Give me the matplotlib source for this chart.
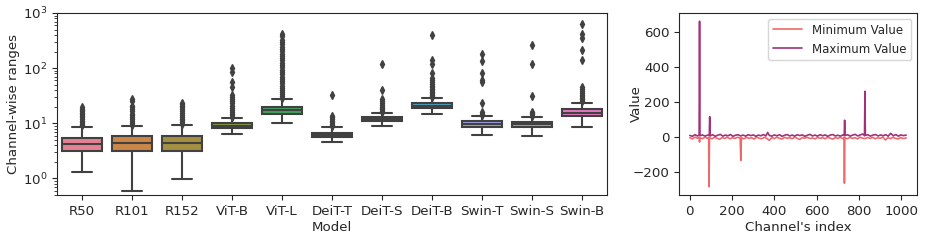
import colorsys
import matplotlib
matplotlib.use("Agg")
import matplotlib.pyplot as plt
import seaborn as sns

sns.set_style("ticks")
plt.rcParams["font.family"] = ["DejaVu Sans"]
plt.rcParams["font.size"] = 9.6

# ---- data: channel-wise ranges per model (box summary, log scale) ----
models = ["R50", "R101", "R152", "ViT-B", "ViT-L", "DeiT-T", "DeiT-S",
          "DeiT-B", "Swin-T", "Swin-S", "Swin-B"]
q1 = [3.2, 3.2, 3.2, 8.2, 14.8, 5.55, 10.9, 18.8, 8.4, 8.5, 13.6]
med = [4.15, 4.3, 4.3, 9.1, 17.5, 6.2, 12.0, 20.9, 9.7, 9.5, 15.6]
q3 = [5.4, 5.8, 5.95, 10.3, 20.1, 6.8, 13.2, 23.0, 10.8, 10.6, 18.0]
whis_lo = [1.3, 0.58, 0.96, 6.3, 10.2, 4.5, 9.1, 14.6, 6.2, 6.0, 8.5]
whis_hi = [8.65, 9.0, 9.4, 12.5, 27.0, 8.4, 15.6, 28.3, 13.6, 13.2, 23.7]
fliers_r50 = [9.2, 9.8, 10.5, 11.2, 12, 12.8, 13.6, 14.5, 15.5, 16.5, 17.5, 18.5, 19.5]
fliers_r101 = [9.4, 10, 11, 12, 13, 14, 15, 16.5, 18, 19.5, 21, 25, 27.5]
fliers_r152 = [9.8, 10.5, 11.3, 12.2, 13.2, 14.2, 15.3, 16.5, 18, 19.5, 21, 22.5, 23.6]
fliers_vitb = [13, 14, 15, 16, 17.5, 19, 21, 23, 25, 27.5, 29.6, 32, 45, 57, 86, 100]
fliers_vitl = [28.5, 31, 34, 37, 40, 44, 48, 53, 58, 64, 70, 77, 85, 94, 103, 113,
               125, 138, 152, 167, 184, 202, 222, 245, 270, 300, 330, 390, 420]
fliers_deitt = [8.8, 9.3, 9.9, 10.5, 11.2, 12, 12.8, 13.5, 33]
fliers_deits = [16.3, 17, 18, 19, 20, 21.5, 23, 25, 28, 40, 117]
fliers_deitb = [29.5, 31, 33, 35, 37, 39.5, 42, 45, 48, 52, 56, 60, 65, 82, 121, 139, 404]
fliers_swint = [14.2, 15, 16, 23, 57, 61, 82, 133, 184]
fliers_swins = [13.8, 14.5, 15.2, 16, 31, 121, 258]
fliers_swinb = [25, 27, 29, 31, 33, 36, 39, 42, 46, 143, 216, 356, 410, 640]
fliers = [fliers_r50, fliers_r101, fliers_r152, fliers_vitb, fliers_vitl, fliers_deitt,
          fliers_deits, fliers_deitb, fliers_swint, fliers_swins, fliers_swinb]

# ---- data: min / max value per channel (sampled) ----
max_idx = [0, 12, 24, 36, 44, 46, 48, 60, 72, 84, 92, 94, 96, 108, 120, 132, 144, 156,
           168, 180, 192, 204, 216, 228, 240, 252, 264, 276, 288, 300, 312, 324, 336,
           348, 360, 368, 376, 388, 400, 412, 424, 436, 448, 460, 472, 484, 496, 508,
           520, 532, 544, 556, 568, 580, 592, 604, 616, 628, 640, 652, 664, 676, 688,
           700, 712, 724, 730, 732, 734, 746, 758, 770, 782, 794, 806, 818, 826, 828,
           830, 842, 854, 866, 878, 890, 902, 914, 926, 938, 950, 962, 974, 986, 998,
           1010, 1023]
max_val = [8, 3, 12, 5, 9, 660, 6, 11, 4, 10, 7, 115, 5, 12, 3, 9, 14, 4,
           10, 6, 13, 3, 9, 12, 5, 10, 4, 12, 7, 11, 3, 10, 6,
           13, 5, 25, 8, 4, 11, 6, 12, 3, 9, 13, 5, 10, 4, 12,
           7, 11, 3, 9, 14, 5, 10, 4, 12, 6, 11, 3, 10, 13, 5,
           9, 4, 11, 6, 95, 7, 12, 4, 10, 14, 5, 11, 16, 6, 260,
           8, 12, 4, 10, 13, 5, 11, 6, 12, 4, 20, 6, 13, 4, 11,
           7, 10]
min_idx = [0, 12, 24, 36, 44, 46, 48, 60, 72, 84, 89, 91, 93, 105, 117, 129, 141, 153,
           165, 177, 189, 201, 213, 225, 238, 241, 244, 256, 268, 280, 292, 304, 316,
           328, 340, 352, 364, 376, 388, 400, 412, 424, 436, 448, 460, 472, 484, 496,
           508, 520, 532, 544, 556, 568, 580, 592, 604, 616, 628, 640, 652, 664, 676,
           688, 700, 712, 724, 729, 731, 733, 745, 757, 769, 781, 793, 805, 817, 829,
           841, 853, 865, 877, 889, 901, 913, 925, 937, 949, 961, 973, 985, 997, 1009,
           1023]
min_val = [-5, -12, -2, -8, -3, -30, -6, -10, -2, -9, -4, -285, -6, -11, -3, -8, -14, -4,
           -9, -2, -11, -5, -9, -3, -7, -135, -5, -12, -3, -9, -5, -13, -2,
           -8, -11, -3, -9, -20, -4, -10, -2, -9, -12, -3, -8, -5, -11, -2,
           -9, -15, -4, -8, -3, -10, -6, -12, -3, -9, -5, -11, -2, -8, -13,
           -4, -9, -3, -10, -5, -265, -6, -11, -3, -9, -5, -12, -2, -8, -10,
           -4, -9, -3, -11, -6, -8, -2, -18, -5, -10, -3, -9, -12, -4, -10,
           -6]

# colours like seaborn boxplot (husl palette, desaturated)
pal = [sns.desaturate(c, 0.75) for c in sns.husl_palette(len(models))]
lum = min(colorsys.rgb_to_hls(*c)[1] for c in pal) * 0.6
gray = (lum, lum, lum)

fig = plt.figure(figsize=(9.26, 2.43), dpi=100)
ax1 = fig.add_axes([57 / 926, 48 / 243, 550 / 926, 182 / 243])
ax2 = fig.add_axes([679 / 926, 48 / 243, 238 / 926, 182 / 243])

stats = []
for i in range(len(models)):
    stats.append(dict(med=med[i], q1=q1[i], q3=q3[i], whislo=whis_lo[i],
                      whishi=whis_hi[i], fliers=fliers[i], label=models[i]))
lw = 1.5
bp = ax1.bxp(stats, positions=range(len(models)), widths=0.8, patch_artist=True,
             boxprops=dict(edgecolor=gray, linewidth=lw),
             medianprops=dict(color=gray, linewidth=lw),
             whiskerprops=dict(color=gray, linewidth=lw),
             capprops=dict(color=gray, linewidth=lw),
             flierprops=dict(marker="d", markersize=4, markerfacecolor=gray,
                             markeredgecolor=gray, linestyle="none"))
for patch, c in zip(bp["boxes"], pal):
    patch.set_facecolor(c)
ax1.set_yscale("log")
ax1.set_ylim(0.5, 1000)
ax1.set_xlim(-0.5, len(models) - 0.5)
ax1.set_xticks(range(len(models)))
ax1.set_xticklabels(models)
ax1.set_xlabel("Model", labelpad=2)
ax1.set_ylabel("Channel-wise ranges")
ax1.yaxis.set_label_coords(-0.068, 0.5)

ax2.plot(min_idx, min_val, color="#ee6a6a", lw=1.2, label="Minimum Value")
ax2.plot(max_idx, max_val, color="#a2307a", lw=1.2, label="Maximum Value")
ax2.set_xticks([0, 200, 400, 600, 800, 1000])
ax2.set_yticks([-200, 0, 200, 400, 600])
ax2.set_xlabel("Channel's index", labelpad=2)
ax2.set_ylabel("Value")
ax2.yaxis.set_label_coords(-0.153, 0.5)
ax2.legend(loc="upper right", fontsize=8.5, handlelength=2.5)

fig.savefig("out.png", dpi=100)
